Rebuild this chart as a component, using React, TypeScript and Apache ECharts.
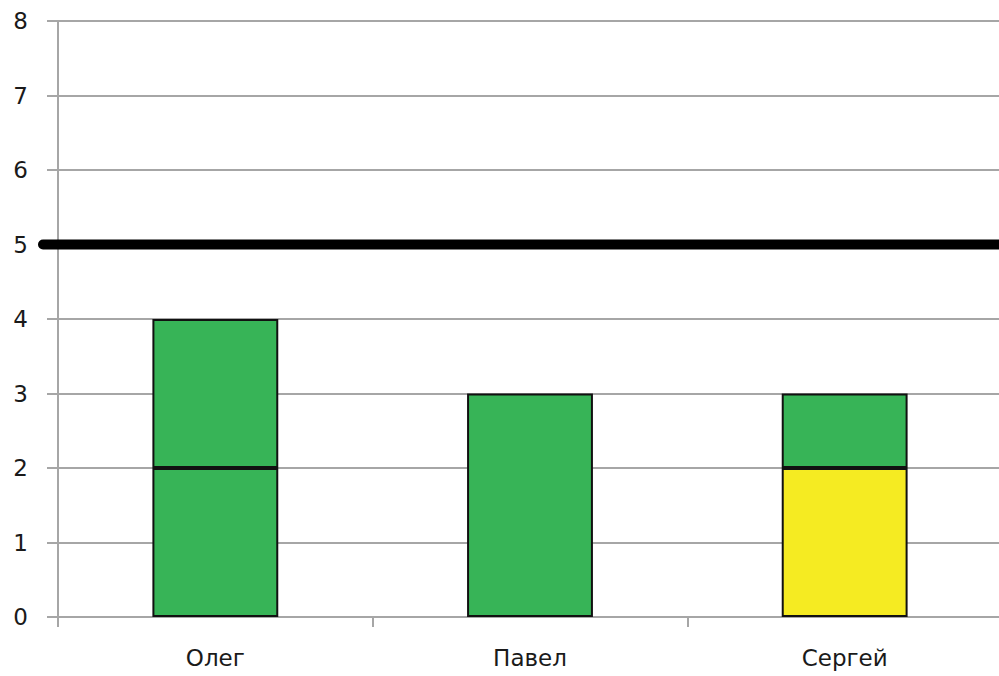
import React, { useEffect, useRef } from "react";
import * as echarts from "echarts";

const categories = ["Олег", "Павел", "Сергей"];
const lowerValues = [2, 3, 2];
const upperValues = [2, 0, 1];
const lowerColors = ["#37B457", "#37B457", "#F5EB22"];
const upperColor = "#37B457";
const targetValue = 5;
const yTicks = { min: 0, max: 8, interval: 1 };

export default function App() {
  const ref = useRef<HTMLDivElement>(null);
  useEffect(() => {
    if (!ref.current) return;
    const chart = echarts.init(ref.current, null, { renderer: "svg" });
    const gray = "#A6A6A6";
    const font = "DejaVu Sans";
    chart.setOption({
      animation: false,
      backgroundColor: "#ffffff",
      grid: [
        { left: 58, top: 21, height: 596, width: 944, outerBoundsMode: "none", containLabel: false },
        { left: 43, top: 21, height: 596, right: -10, outerBoundsMode: "none", containLabel: false },
      ],
      xAxis: [
        {
          type: "category",
          gridIndex: 0,
          data: categories,
          axisLine: { show: true, lineStyle: { color: gray, width: 2 } },
          axisTick: { show: true, length: 10, lineStyle: { color: gray, width: 2 } },
          axisLabel: { margin: 29, fontSize: 23, color: "#1a1a1a", fontFamily: font },
        },
        { type: "value", gridIndex: 1, min: 0, max: 1, show: false },
      ],
      yAxis: [
        {
          type: "value",
          gridIndex: 0,
          min: yTicks.min,
          max: yTicks.max,
          interval: yTicks.interval,
          axisLine: { show: true, lineStyle: { color: gray, width: 2 } },
          axisTick: { show: true, length: 11, lineStyle: { color: gray, width: 2 } },
          splitLine: { show: true, lineStyle: { color: gray, width: 2 } },
          axisLabel: { margin: 30, fontSize: 23, color: "#1a1a1a", fontFamily: font },
        },
        { type: "value", gridIndex: 1, min: yTicks.min, max: yTicks.max, show: false },
      ],
      series: [
        {
          type: "bar",
          xAxisIndex: 0,
          yAxisIndex: 0,
          stack: "s",
          barWidth: "40%",
          data: lowerValues.map((v, i) => ({
            value: v,
            itemStyle: { color: lowerColors[i], borderColor: "#111", borderWidth: 2 },
          })),
        },
        {
          type: "bar",
          xAxisIndex: 0,
          yAxisIndex: 0,
          stack: "s",
          barWidth: "40%",
          data: upperValues.map((v) => (v > 0 ? v : null)),
          itemStyle: { color: upperColor, borderColor: "#111", borderWidth: 2 },
        },
        {
          type: "line",
          xAxisIndex: 1,
          yAxisIndex: 1,
          symbol: "none",
          data: [
            [0, targetValue],
            [1, targetValue],
          ],
          lineStyle: { color: "#000", width: 10, cap: "round" },
          z: 5,
        },
      ],
    });
    return () => chart.dispose();
  }, []);
  return (
    <div
      ref={ref}
      style={{ position: "absolute", left: 0, top: 0, width: 999, height: 676 }}
    />
  );
}
